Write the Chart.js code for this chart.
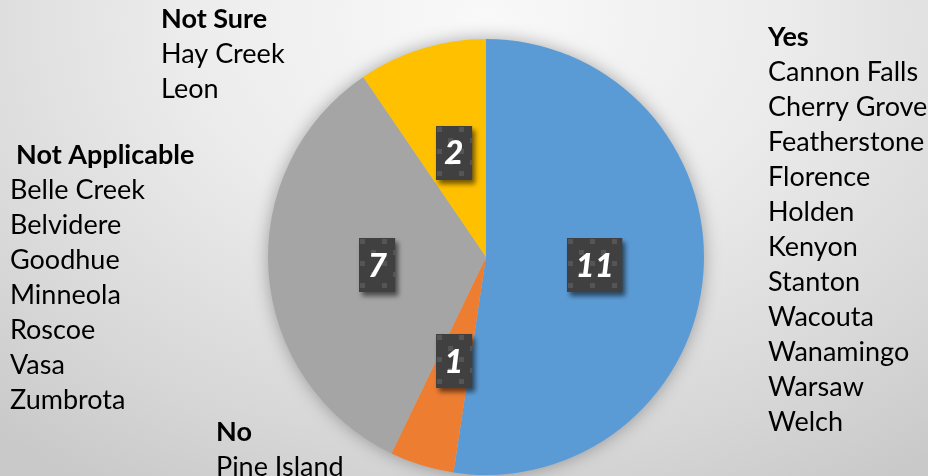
<!DOCTYPE html>
<html>
<head>
<meta charset="utf-8">
<script src="https://cdn.jsdelivr.net/npm/chart.js@4.4.1/dist/chart.umd.min.js"></script>
<style>
    html, body { margin: 0; padding: 0; }
    body {
        width: 928px; height: 476px; overflow: hidden;
        background: radial-gradient(ellipse 80% 115% at 52% 4%, #f9f9f9 0%, #ececec 40%, #d6d6d6 80%, #c9c9c9 100%);
    }
    #wrap { position: relative; width: 928px; height: 476px; }
</style>
</head>
<body>
<div id="wrap"><canvas id="pieChart"></canvas></div>
<script>
// Survey answers
const categories = ['Yes', 'No', 'Not Applicable', 'Not Sure'];
const counts = [11, 1, 7, 2];
const sliceColors = ['#5B9BD5', '#ED7D31', '#A5A5A5', '#FFC000'];

// Townships behind each answer
const yesTowns = ['Cannon Falls', 'Cherry Grove', 'Featherstone', 'Florence', 'Holden', 'Kenyon',
                  'Stanton', 'Wacouta', 'Wanamingo', 'Warsaw', 'Welch'];
const noTowns = ['Pine Island'];
const notApplicableTowns = ['Belle Creek', 'Belvidere', 'Goodhue', 'Minneola', 'Roscoe', 'Vasa', 'Zumbrota'];
const notSureTowns = ['Hay Creek', 'Leon'];

const FONT = 'Lato, "Open Sans", sans-serif';
const LINE_H = 35;

// where each text block sits (baseline of the header line)
const textBlocks = [
    { title: categories[0], towns: yesTowns, headX: 768, x: 768, y: 46 },
    { title: categories[1], towns: noTowns, headX: 216, x: 216, y: 441 },
    { title: categories[2], towns: notApplicableTowns, headX: 16, x: 10, y: 164 },
    { title: categories[3], towns: notSureTowns, headX: 161, x: 161, y: 28 }
];

// dark tile pattern for the value boxes
function makeBoxPattern(ctx) {
    const tile = document.createElement('canvas');
    tile.width = 22; tile.height = 22;
    const t = tile.getContext('2d');
    t.fillStyle = '#404040';
    t.fillRect(0, 0, 22, 22);
    t.fillStyle = '#555555';
    t.fillRect(1, 1, 5, 5);
    t.fillRect(12, 12, 5, 5);
    return ctx.createPattern(tile, 'repeat');
}

// soft shadow under the whole pie
const pieShadow = {
    id: 'pieShadow',
    beforeDatasetsDraw(chart) {
        const arc = chart.getDatasetMeta(0).data[0];
        if (!arc) return;
        const ctx = chart.ctx;
        ctx.save();
        ctx.shadowColor = 'rgba(0,0,0,0.35)';
        ctx.shadowBlur = 18;
        ctx.fillStyle = '#bbbbbb';
        ctx.beginPath();
        ctx.arc(arc.x, arc.y, arc.outerRadius - 1, 0, Math.PI * 2);
        ctx.fill();
        ctx.restore();
    }
};

// boxed value labels at half radius
const valueBoxes = {
    id: 'valueBoxes',
    afterDatasetsDraw(chart) {
        const ctx = chart.ctx;
        const pattern = makeBoxPattern(ctx);
        const meta = chart.getDatasetMeta(0);
        ctx.save();
        ctx.font = 'italic 900 33px ' + FONT;
        meta.data.forEach((arc, i) => {
            const mid = (arc.startAngle + arc.endAngle) / 2;
            const r = arc.outerRadius * 0.5;
            const cx = arc.x + Math.cos(mid) * r;
            const cy = arc.y + Math.sin(mid) * r;
            const label = String(counts[i]);
            const w = ctx.measureText(label).width + 17;
            const h = 54;
            const bx = Math.round(cx - w / 2), by = Math.round(cy - h / 2);

            ctx.save();
            ctx.shadowColor = 'rgba(0,0,0,0.55)';
            ctx.shadowBlur = 5;
            ctx.shadowOffsetX = 3;
            ctx.shadowOffsetY = 4;
            ctx.translate(bx, by);
            ctx.fillStyle = pattern;
            ctx.fillRect(0, 0, w, h);
            ctx.restore();

            ctx.fillStyle = '#ffffff';
            ctx.textAlign = 'center';
            ctx.textBaseline = 'middle';
            ctx.fillText(label, cx, cy + 1);
        });
        ctx.restore();
    }
};

// category headers and town lists
const townLists = {
    id: 'townLists',
    afterDraw(chart) {
        const ctx = chart.ctx;
        ctx.save();
        ctx.fillStyle = '#000000';
        ctx.textAlign = 'left';
        ctx.textBaseline = 'alphabetic';
        textBlocks.forEach(b => {
            ctx.font = 'bold 27px ' + FONT;
            ctx.fillText(b.title, b.headX, b.y);
            ctx.font = '27px ' + FONT;
            b.towns.forEach((town, k) => {
                ctx.fillText(town, b.x, b.y + LINE_H * (k + 1));
            });
        });
        ctx.restore();
    }
};

const ctx = document.getElementById('pieChart');
new Chart(ctx, {
    type: 'pie',
    data: {
        labels: categories,
        datasets: [{
            data: counts,
            backgroundColor: sliceColors,
            borderWidth: 0
        }]
    },
    options: {
        responsive: true,
        maintainAspectRatio: false,
        animation: false,
        layout: { padding: { left: 44, right: 0, top: 39, bottom: 1 } },
        plugins: {
            legend: { display: false },
            tooltip: { enabled: false }
        }
    },
    plugins: [pieShadow, valueBoxes, townLists]
});
</script>
</body>
</html>
